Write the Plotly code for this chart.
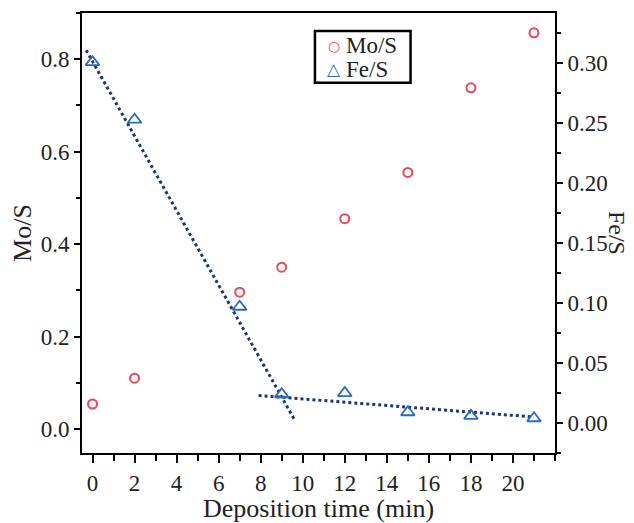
import plotly.graph_objects as go

# 測定データ
time_min = [0, 2, 7, 9, 12, 15, 18, 21]
mo_s = [0.054, 0.110, 0.296, 0.350, 0.455, 0.555, 0.738, 0.857]
fe_s = [0.301, 0.253, 0.097, 0.024, 0.025, 0.009, 0.006, 0.004]

# 直線フィット（2区間）
fit1_x = [-0.3, 9.6]
fit1_y = [0.311, 0.003]
fit2_x = [7.9, 21.0]
fit2_y = [0.023, 0.005]

FONT = "Liberation Serif, Times New Roman, serif"
RED = "#ee4455"
BLUE = "#2c6bb8"
NAVY = "#1d3576"
TICKFONT = dict(family=FONT, size=23, color="#222")

fig = go.Figure()

fig.add_trace(go.Scatter(x=fit1_x, y=fit1_y, yaxis="y2", mode="lines",
                         line=dict(color=NAVY, width=3, dash="dot"), showlegend=False))
fig.add_trace(go.Scatter(x=fit2_x, y=fit2_y, yaxis="y2", mode="lines",
                         line=dict(color=NAVY, width=3, dash="dot"), showlegend=False))

fig.add_trace(go.Scatter(x=time_min, y=mo_s, name="Mo/S", mode="markers", showlegend=False,
                         marker=dict(symbol="circle-open", size=9, color=RED, line=dict(width=2))))
fig.add_trace(go.Scatter(x=time_min, y=fe_s, name="Fe/S", mode="markers", yaxis="y2", showlegend=False,
                         marker=dict(symbol="triangle-up-open", size=12, color=BLUE, line=dict(width=1.8))))

axis_common = dict(showline=True, linecolor="black", linewidth=2, showgrid=False,
                   zeroline=False, ticks="outside", tickcolor="black", tickwidth=2,
                   tickfont=TICKFONT)

# 凡例（枠と記号・ラベル）
fig.add_shape(type="rect", xref="paper", yref="paper", x0=0.4925, x1=0.6946, y0=0.8416, y1=0.9593,
              line=dict(color="black", width=2.5), fillcolor="white", layer="below")
legend_items = [("○", RED, "Mo/S", 0.926, 14), ("△", BLUE, "Fe/S", 0.872, 17)]
for glyph, color, label, ypos, gsize in legend_items:
    fig.add_annotation(text=glyph, x=0.533, y=ypos, xref="paper", yref="paper", showarrow=False,
                       xanchor="center", yanchor="middle",
                       font=dict(family="DejaVu Sans", size=gsize, color=color))
    fig.add_annotation(text=label, x=0.553, y=ypos, xref="paper", yref="paper", showarrow=False,
                       xanchor="left", yanchor="middle", font=dict(family=FONT, size=23, color="#222"))

# ページの余白(8px)を考慮して図のサイズを決める
fig.update_layout(
    width=626, height=515,
    margin=dict(l=74, r=79, t=3, b=62),
    plot_bgcolor="white", paper_bgcolor="white",
    font=dict(family=FONT, size=22, color="#222"),
    showlegend=False,
    xaxis=dict(range=[-0.5, 22.0], tickvals=list(range(0, 21, 2)), ticklen=8,
               minor=dict(dtick=1, tick0=0, ticks="outside", ticklen=6, tickcolor="black", tickwidth=2),
               title=dict(text="Deposition time (min)", standoff=6), mirror=True, **axis_common),
    yaxis=dict(range=[-0.052, 0.90], tickvals=[0, 0.2, 0.4, 0.6, 0.8], tickformat=".1f", ticklen=6,
               minor=dict(dtick=0.1, tick0=0, ticks="outside", ticklen=4, tickcolor="black", tickwidth=2),
               title=dict(text="Mo/S", standoff=8), mirror=True, **axis_common),
    yaxis2=dict(range=[-0.025, 0.342], overlaying="y", side="right", ticklen=6,
                tickvals=[0, 0.05, 0.10, 0.15, 0.20, 0.25, 0.30], tickformat=".2f",
                minor=dict(dtick=0.025, tick0=0, ticks="outside", ticklen=4, tickcolor="black", tickwidth=2),
                **axis_common),
)
fig.add_annotation(text="Fe/S", x=1.163, y=0.5, xref="paper", yref="paper",
                   textangle=90, showarrow=False, font=dict(family=FONT, size=24))

fig.write_html("out.html")
